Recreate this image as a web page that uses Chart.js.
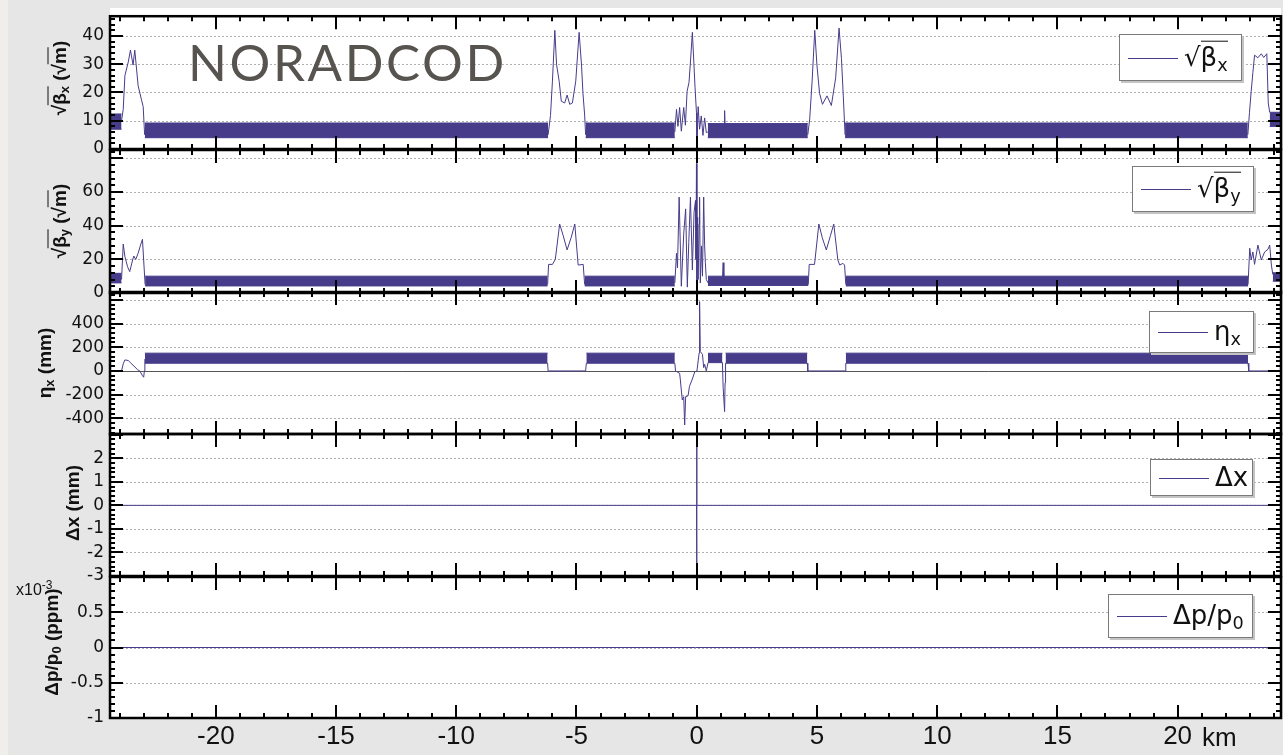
<!DOCTYPE html>
<html>
<head>
<meta charset="utf-8">
<title>NORADCOD</title>
<script src="https://cdn.jsdelivr.net/npm/chart.js@4.4.1/dist/chart.umd.min.js"></script>
<style>
  body { margin: 0; width: 1283px; height: 755px; overflow: hidden; position: relative;
         background: #efeeeb; font-family: 'Liberation Sans', Arial, sans-serif; color: #111; }
  #sheet { position: absolute; left: 8px; top: 0; right: 0; bottom: 0; background: #e6e6e6; }
  #paper { position: absolute; left: 110px; top: 8px; width: 1171px; height: 710px; background: #fff; }
  .layer { position: absolute; left: 0; top: 0; width: 1283px; height: 755px; }
  .ytitle { position: absolute; transform: translate(-50%, -50%) rotate(-90deg); white-space: nowrap;
            font-weight: bold; font-size: 19px; line-height: 1; }
  .ov { border-top: 1.5px solid currentColor; }
  sub { font-size: 0.68em; vertical-align: -0.3em; line-height: 0; }
  .legend { position: absolute; background: #fff; border: 1px solid #7a7a7a; box-shadow: 2px 2px 0 #c4c4c4;
            box-sizing: border-box; font-family: 'DejaVu Sans', sans-serif; font-size: 26px; }
  .legend > i { position: absolute; left: 8px; top: 50%; width: 50px; border-top: 1px solid #463c8a; }
  .legend > span { position: absolute; left: 64px; top: 50%; transform: translateY(-55%); white-space: nowrap; line-height: 1; }
  #brand { position: absolute; left: 188px; top: 36px; font: 51px/1 Lato, sans-serif; letter-spacing: 2.6px; color: #57534e; }
  #scale { position: absolute; left: 16px; top: 578px; font-size: 16px; }
  #scale sup { font-size: 12px; }
  #km { position: absolute; left: 1202px; top: 724px; font: 26px/1 'Liberation Sans', Arial, sans-serif; }
</style>
</head>
<body>
<div id="sheet"></div>
<div id="paper"></div>
<script>
// x axis (km)
const kmMin = -24.4;
const kmMax = 24.3;
const kmTicks = [-20, -15, -10, -5, 0, 5, 10, 15, 20];
const kmLabels = ['-20', '-15', '-10', '-5', '0', '5', '10', '15', '20'];

// sqrt(beta_x): arc bands [from, to, low, high] + insertion lines (null = break)
const bxTicks = [0, 10, 20, 30, 40];
const bxLabels = ['0', '10', '20', '30', '40'];
const bxBands = [
    [-24.4, -23.92, 7, 12.4],
    [-22.95, -6.18, 4, 9.2],
    [-4.62, -0.91, 4, 9.2],
    [0.46, 4.62, 4, 9],
    [6.17, 22.92, 4, 9.2],
    [23.83, 24.3, 8, 13]
];
const bxS = [-23.92, -23.85, -23.78, -23.64, -23.55, -23.44, -23.37, -23.23, -23.09, -23.02, -22.96, null,
    -6.18, -6.08, -6.0, -5.9, -5.83, -5.72, -5.63, -5.49, -5.39, -5.28, -5.17, -5.03, -4.89, -4.79, -4.73, -4.66, -4.62, null,
    -0.91, -0.84, -0.78, -0.71, -0.64, -0.54, -0.47, -0.4, -0.32, -0.26, -0.18, -0.12, -0.07, -0.01, 0.01, 0.06, 0.12, 0.19, 0.26, 0.33, 0.4, 0.46, null,
    1.14, 1.16, 1.18, null,
    4.62, 4.7, 4.8, 4.91, 5.0, 5.11, 5.23, 5.42, 5.6, 5.78, 5.92, 6.02, 6.11, 6.17, null,
    22.92, 22.99, 23.06, 23.13, 23.2, 23.34, 23.48, 23.58, 23.71, 23.77, 23.83];
const bxV = [10, 14, 26, 30.8, 35, 29.7, 35, 22.4, 17.4, 15, 5, null,
    5, 11.9, 24, 42, 30, 24, 16.9, 16.3, 19.1, 15.8, 16.3, 24, 41.3, 29.7, 19.7, 12, 5, null,
    6, 14, 8, 14.7, 6.3, 14.7, 8.4, 20.4, 23.6, 30.8, 41.3, 30.8, 21.9, 12.9, 0.8, 15, 7, 11.7, 4.8, 11, 5.8, 6, null,
    8, 13.6, 8, null,
    5, 10.7, 24, 42, 29.7, 19.7, 15.8, 18.8, 15.4, 25.2, 42.8, 32, 16.3, 5, null,
    5, 13, 20.4, 27, 33.2, 32.3, 33.7, 32.4, 33.7, 16.3, 13];

// sqrt(beta_y)
const byTicks = [0, 20, 40, 60, 80];
const byLabels = ['0', '20', '40', '60', ''];
const byBands = [
    [-24.4, -23.92, 6, 11.7],
    [-22.94, -6.2, 4.2, 10],
    [-4.66, -0.91, 4.2, 10],
    [0.47, 4.64, 4.5, 10],
    [6.2, 22.93, 4.2, 10],
    [23.96, 24.3, 7, 12]
];
const byS = [-23.92, -23.85, -23.78, -23.67, -23.58, -23.46, -23.41, -23.33, -23.23, -23.13, -23.05, -23.0, -22.94, null,
    -6.2, -6.16, -6.0, -5.88, -5.7, -5.55, -5.39, -5.22, -5.07, -4.93, -4.72, -4.66, null,
    -0.91, -0.84, -0.8, -0.73, -0.64, -0.54, -0.46, -0.39, -0.33, -0.26, -0.18, -0.11, -0.05, -0.03, -0.01, 0.01, 0.04, 0.06, 0.1, 0.12, 0.15, 0.2, 0.24, 0.29, 0.33, 0.36, 0.4, 0.47, null,
    1.07, 1.1, 1.13, null,
    4.64, 4.68, 4.9, 5.08, 5.22, 5.39, 5.56, 5.7, 5.87, 5.95, 6.08, 6.15, 6.2, null,
    22.93, 23.0, 23.06, 23.13, 23.2, 23.34, 23.48, 23.62, 23.76, 23.83, 23.9, 23.96];
const byV = [8, 29.1, 21.6, 15.6, 12.7, 19.6, 22, 20, 23.6, 28.5, 31.9, 19.6, 5, null,
    5, 17, 17, 20, 41, 34, 25.6, 33, 41, 16.6, 17, 5, null,
    6, 23.6, 15, 57, 4, 35, 50, 3.5, 30, 57, 13.7, 48, 55, 20, 77, 3, 45, 8, 41, 57, 6, 28, 10, 57, 28, 18, 8, 6, null,
    8, 18, 8, null,
    5, 17, 17, 41, 33, 25.6, 34, 41, 19.6, 16.6, 17.6, 16.6, 5, null,
    5, 26.6, 19.6, 24.4, 17, 28.5, 19.6, 24.4, 26, 28.5, 16.6, 11];

// eta_x (mm)
const etaTicks = [-400, -200, 0, 200, 400, 600];
const etaLabels = ['-400', '-200', '0', '200', '400', ''];
const etaBands = [
    [-22.95, -6.2, 65, 150],
    [-4.59, -0.91, 65, 150],
    [0.47, 1.07, 70, 149],
    [1.2, 4.6, 65, 150],
    [6.2, 22.93, 65, 150]
];
const etaS = [-24.4, -23.92, -23.85, -23.78, -23.64, -23.55, -23.4, -23.25, -23.16, -23.05, -23.0, -22.97, -22.95, null,
    -6.2, -6.18, -4.62, -4.59, null,
    -0.91, -0.88, -0.71, -0.68, -0.6, -0.54, -0.5, -0.46, -0.36, -0.3, -0.18, -0.08, 0.01, 0.1, 0.12, 0.15, 0.24, 0.29, 0.33, 0.4, 0.47, null,
    1.07, 1.1, 1.16, 1.18, 1.2, null,
    4.6, 4.62, 6.18, 6.2, null,
    22.93, 22.96, 24.3];
const etaV = [0, 0, 60, 93, 88, 70, 40, 10, 0, -40, -53, 0, 100, null,
    65, 0, 0, 65, null,
    65, 0, -20, -76, -245, -217, -456, -217, -210, -130, -68, -8, 0, 150, 585, 163, 140, 28, 56, 0, 70, null,
    70, -140, -343, -100, 65, null,
    65, 0, 0, 65, null,
    65, 0, 0];

// delta x (mm)
const dxTicks = [-3, -2, -1, 0, 1, 2, 3];
const dxLabels = ['-3', '-2', '-1', '0', '1', '2', ''];
const dxS = [-24.4, -0.005, 0, 0.004, 0.008, 24.3];
const dxV = [0, 0, 3.4, -3.4, 0, 0];

// delta p / p0 (x1e-3 ppm)
const dpTicks = [-1, -0.5, 0, 0.5, 1];
const dpLabels = ['-1', '-0.5', '0', '0.5', ''];
const dpS = [-24.4, 24.3];
const dpV = [0, 0];

const lineColor = '#463c8a';

const panels = [
    { top: 8, bottom: 149, min: 0, max: 47, minor: 2, ticks: bxTicks, labels: bxLabels, bands: bxBands, s: bxS, v: bxV },
    { top: 150, bottom: 293, min: 0, max: 85, minor: 4, ticks: byTicks, labels: byLabels, bands: byBands, s: byS, v: byV },
    { top: 292, bottom: 434, min: -532, max: 666, minor: 40, ticks: etaTicks, labels: etaLabels, bands: etaBands, s: etaS, v: etaV, zero: true },
    { top: 434, bottom: 576, min: -3, max: 3.03, minor: 0.2, ticks: dxTicks, labels: dxLabels, bands: [], s: dxS, v: dxV },
    { top: 577, bottom: 718, min: -1, max: 1, minor: 0.1, ticks: dpTicks, labels: dpLabels, bands: [], s: dpS, v: dpV }
];

// grid lines, inward ticks and the black box round each panel
const frame = {
    id: 'frame',
    beforeDatasetsDraw(chart, args, o) {
        const p = panels[o.panel];
        const { ctx, chartArea: a, scales: { y } } = chart;
        ctx.save();
        ctx.lineWidth = 1;
        ctx.strokeStyle = '#b0b0b0';
        ctx.setLineDash([2, 2]);
        ctx.beginPath();
        p.ticks.forEach(v => {
            const py = Math.round(y.getPixelForValue(v)) + 0.5;
            if (py < a.top + 3 || py > a.bottom - 3) return;
            ctx.moveTo(a.left, py);
            ctx.lineTo(a.right, py);
        });
        ctx.stroke();
        if (p.zero) {
            ctx.setLineDash([]);
            ctx.strokeStyle = '#555';
            const py = Math.round(y.getPixelForValue(0)) + 0.5;
            ctx.beginPath();
            ctx.moveTo(a.left, py);
            ctx.lineTo(a.right, py);
            ctx.stroke();
        }
        ctx.restore();
    },
    afterDraw(chart, args, o) {
        const p = panels[o.panel];
        const { ctx, chartArea: a, scales: { x, y } } = chart;
        ctx.save();
        ctx.strokeStyle = '#000';
        ctx.lineWidth = 2;
        ctx.beginPath();
        for (let k = Math.ceil(x.min); k <= x.max; k++) {
            const px = Math.round(x.getPixelForValue(k));
            const len = k % 5 === 0 ? 13 : 5;
            ctx.moveTo(px, a.top); ctx.lineTo(px, a.top + len);
            ctx.moveTo(px, a.bottom); ctx.lineTo(px, a.bottom - len);
        }
        for (let k = Math.ceil(p.min / p.minor - 1e-6); k * p.minor <= p.max + 1e-6; k++) {
            const v = k * p.minor;
            const py = Math.round(y.getPixelForValue(v));
            const major = p.ticks.some(t => Math.abs(t - v) < 1e-6);
            const len = major ? 13 : 5;
            ctx.moveTo(a.left, py); ctx.lineTo(a.left + len, py);
            ctx.moveTo(a.right, py); ctx.lineTo(a.right - len, py);
        }
        ctx.stroke();
        ctx.lineWidth = 2.5;
        ctx.strokeRect(a.left, a.top, a.right - a.left, a.bottom - a.top);
        ctx.restore();
    }
};

function lineSet(s, v) {
    return {
        data: s.map((x, i) => ({ x: x, y: v[i] })),
        borderColor: lineColor, borderWidth: 1, pointRadius: 0, fill: false, spanGaps: false
    };
}

function bandSets(bands) {
    const sets = [];
    bands.forEach(([a, b, lo, hi]) => {
        sets.push({ data: [{ x: a, y: hi }, { x: b, y: hi }], borderColor: lineColor, borderWidth: 1, pointRadius: 0, fill: false });
        sets.push({ data: [{ x: a, y: lo }, { x: b, y: lo }], borderColor: lineColor, backgroundColor: lineColor,
            borderWidth: 1, pointRadius: 0, fill: '-1' });
    });
    return sets;
}

panels.forEach((p, i) => {
    const last = i === panels.length - 1;
    const box = document.createElement('div');
    box.className = 'layer';
    const canvas = document.createElement('canvas');
    box.appendChild(canvas);
    document.body.appendChild(box);
    new Chart(canvas, {
        type: 'line',
        data: { datasets: [lineSet(p.s, p.v), ...bandSets(p.bands)] },
        options: {
            responsive: true,
            maintainAspectRatio: false,
            animation: false,
            events: [],
            layout: { padding: { top: p.top, bottom: last ? 0 : 755 - p.bottom, left: 0, right: 2 } },
            scales: {
                x: {
                    type: 'linear', min: kmMin, max: kmMax, display: last,
                    grid: { display: false, drawTicks: false },
                    border: { display: false },
                    afterBuildTicks: s => { s.ticks = kmTicks.map(v => ({ value: v })); },
                    afterFit: s => { s.height = last ? 755 - p.bottom : 0; },
                    ticks: {
                        padding: 3, maxRotation: 0, autoSkip: false, color: '#111',
                        font: { family: 'Liberation Sans', size: 26 },
                        callback: (v, k) => kmLabels[k]
                    }
                },
                y: {
                    type: 'linear', min: p.min, max: p.max,
                    grid: { display: false, drawTicks: false },
                    border: { display: false },
                    afterBuildTicks: s => { s.ticks = p.ticks.map(v => ({ value: v })); },
                    afterFit: s => { s.width = 110; },
                    ticks: {
                        padding: 6, autoSkip: false, color: '#111',
                        font: { family: 'DejaVu Sans', size: 17 },
                        callback: (v, k) => p.labels[k]
                    }
                }
            },
            plugins: {
                legend: { display: false },
                tooltip: { enabled: false },
                frame: { panel: i }
            }
        },
        plugins: [frame]
    });
});
</script>

<div id="brand">NORADCOD</div>

<div class="ytitle" style="left:59px;top:78px">√<span class="ov">β<sub>x</sub></span> (√<span class="ov">m</span>)</div>
<div class="ytitle" style="left:59px;top:221px">√<span class="ov">β<sub>y</sub></span> (√<span class="ov">m</span>)</div>
<div class="ytitle" style="left:44px;top:363px">η<sub>x</sub> (mm)</div>
<div class="ytitle" style="left:72px;top:503px">Δx (mm)</div>
<div class="ytitle" style="left:51px;top:642px">Δp/p<sub>0</sub> (ppm)</div>

<div class="legend" style="left:1119px;top:34px;width:123px;height:47px"><i></i><span>√<span class="ov">β<sub>x</sub></span></span></div>
<div class="legend" style="left:1132px;top:166px;width:122px;height:46px"><i></i><span>√<span class="ov">β<sub>y</sub></span></span></div>
<div class="legend" style="left:1149px;top:311px;width:105px;height:42px"><i></i><span>η<sub>x</sub></span></div>
<div class="legend" style="left:1150px;top:459px;width:103px;height:37px"><i></i><span>Δx</span></div>
<div class="legend" style="left:1108px;top:594px;width:145px;height:44px"><i></i><span>Δp/p<sub>0</sub></span></div>

<div id="scale">x10<sup>-3</sup></div>
<div id="km">km</div>
</body>
</html>
